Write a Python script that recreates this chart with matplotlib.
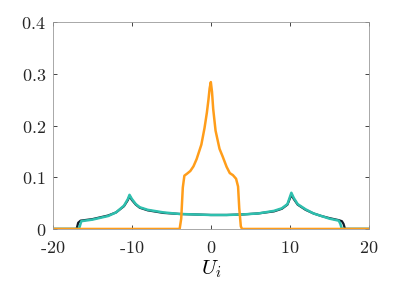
import matplotlib
matplotlib.use("Agg")
import matplotlib.pyplot as plt
import numpy as np

plt.rcParams['mathtext.fontset'] = 'cm'
plt.rcParams['font.family'] = 'serif'
plt.rcParams['font.serif'] = ['DejaVu Serif']

# black (dark) series
black_x = [-20, -17.0, -16.8, -16.5, -15, -13, -12, -11, -10.5, -10.3, -10.0, -9.5, -9, -8, -6, -4, -2, 0,
           2, 4, 6, 8, 9, 9.7, 10.2, 10.5, 11, 12, 13, 14, 15, 16.2, 16.6, 16.8, 17.0, 20]
black_y = [0, 0, 0.012, 0.016, 0.019, 0.026, 0.032, 0.044, 0.056, 0.064, 0.056, 0.047, 0.041, 0.036, 0.031, 0.029, 0.028, 0.027,
           0.027, 0.028, 0.030, 0.034, 0.039, 0.047, 0.066, 0.058, 0.047, 0.037, 0.030, 0.025, 0.021, 0.017, 0.015, 0.010, 0, 0]

# teal series
teal_x = [-20, -16.7, -16.4, -15, -13, -12, -11, -10.5, -10.3, -10.0, -9.5, -9, -8, -6, -4, -2, 0,
          2, 4, 6, 8, 9, 9.7, 10.2, 10.5, 11, 12, 13, 14, 15, 16.2, 16.4, 16.6, 20]
teal_y = [0, 0, 0.015, 0.018, 0.025, 0.032, 0.045, 0.058, 0.066, 0.058, 0.048, 0.042, 0.037, 0.032, 0.029, 0.028, 0.027,
          0.027, 0.028, 0.030, 0.035, 0.040, 0.048, 0.070, 0.060, 0.048, 0.038, 0.030, 0.025, 0.020, 0.016, 0.010, 0, 0]

# orange series
orange_x = [-20, -3.95, -3.75, -3.55, -3.35, -3.0, -2.6, -2.2, -1.8, -1.2, -0.8, -0.5, -0.3, -0.15, 0,
            0.15, 0.3, 0.6, 1.1, 1.5, 2.0, 2.4, 2.8, 3.2, 3.45, 3.6, 3.8, 3.95, 20]
orange_y = [0, 0, 0.02, 0.08, 0.103, 0.107, 0.112, 0.121, 0.135, 0.163, 0.195, 0.225, 0.250, 0.272, 0.284,
            0.265, 0.232, 0.190, 0.155, 0.140, 0.120, 0.108, 0.104, 0.097, 0.082, 0.040, 0.005, 0, 0]

xticks = [-20, -10, 0, 10, 20]
xticklabels = ['-20', '-10', '0', '10', '20']
yticks = [0, 0.1, 0.2, 0.3, 0.4]
yticklabels = ['0', '0.1', '0.2', '0.3', '0.4']

fig = plt.figure(figsize=(4.07, 2.83), dpi=100)
ax = fig.add_axes([0.130, 0.191, 0.776, 0.731])

ax.plot(black_x, black_y, color='#0d1b2a', lw=1.6)
ax.plot(teal_x, teal_y, color='#2ebfae', lw=1.8)
ax.plot(orange_x, orange_y, color='#ff9d1a', lw=1.8)

ax.set_xlim(-20, 20)
ax.set_ylim(0, 0.4)
ax.set_xticks(xticks)
ax.set_xticklabels(['$' + t + '$' if not t.startswith('-') else r'$\text{-}' + t[1:] + '$' for t in xticklabels])
ax.set_yticks(yticks)
ax.set_yticklabels(['$' + t + '$' for t in yticklabels])
ax.tick_params(direction='in', top=True, right=True, length=3, width=0.6,
               colors='#262626', labelsize=13)
ax.tick_params(axis='x', pad=7)
ax.tick_params(axis='y', pad=5)
for s in ax.spines.values():
    s.set_color('#9a9a9a')
    s.set_linewidth(0.6)
ax.set_xlabel('$U_i$', fontsize=15, labelpad=1)

fig.savefig('out.png', dpi=100)
